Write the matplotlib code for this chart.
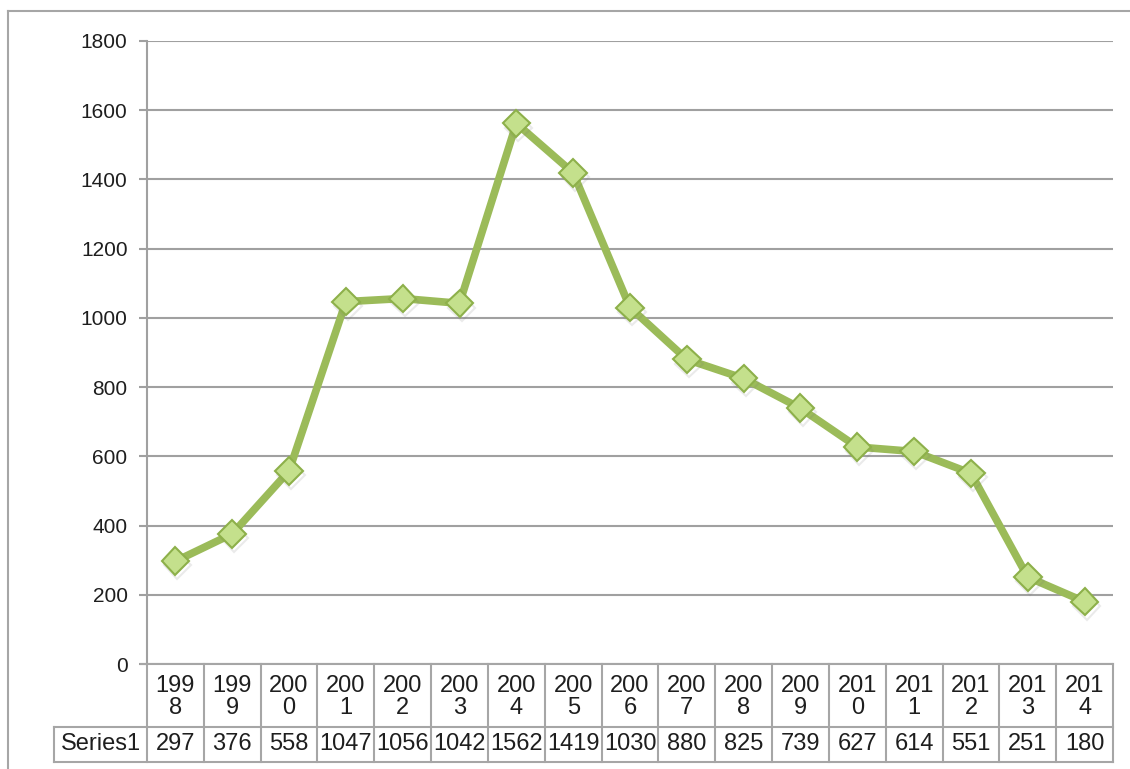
import matplotlib
matplotlib.use("Agg")
import matplotlib.pyplot as plt
from matplotlib.lines import Line2D
import matplotlib.patheffects as pe

plt.rcParams['font.family'] = ['Liberation Sans', 'DejaVu Sans']

# data
years = ["1998", "1999", "2000", "2001", "2002", "2003", "2004", "2005", "2006",
         "2007", "2008", "2009", "2010", "2011", "2012", "2013", "2014"]
series1 = [297, 376, 558, 1047, 1056, 1042, 1562, 1419, 1030,
           880, 825, 739, 627, 614, 551, 251, 180]
series_name = "Series1"
yticks = [0, 200, 400, 600, 800, 1000, 1200, 1400, 1600, 1800]

W, H = 1130, 769
fig = plt.figure(figsize=(W / 100, H / 100), dpi=100)

def fx(px):
    return px / W

def fy(py):
    return 1 - py / H

ax_l, ax_r, ax_t, ax_b = 147, 1113, 41, 664
ax = fig.add_axes([fx(ax_l), fy(ax_b), fx(ax_r) - fx(ax_l), fy(ax_t) - fy(ax_b)])

n = len(years)
xs = list(range(n))
grid_c = '#A0A0A0'
txt_c = '#1E1E1E'

ax.set_xlim(-0.5, n - 0.5)
ax.set_ylim(0, 1800)
ax.set_yticks(yticks)
ax.set_yticklabels([str(v) for v in yticks], fontsize=15, color=txt_c)
ax.set_xticks([])
ax.tick_params(axis='y', length=6, width=1.5, color=grid_c, pad=8)
for v in yticks:
    ax.axhline(v, color=grid_c, lw=1.5, zorder=0)
for s in ['top', 'right', 'bottom']:
    ax.spines[s].set_visible(False)
ax.spines['left'].set_color(grid_c)
ax.spines['left'].set_linewidth(1.5)

# line + markers (with soft shadow)
ax.plot(xs, series1, color='#9BBB59', lw=5.5, zorder=2, solid_capstyle='round',
        solid_joinstyle='round')
ax.plot(xs, series1, ls='none', marker='D', markersize=14,
        markerfacecolor='#C4E08C', markeredgecolor='#8DB04A', markeredgewidth=1.5,
        zorder=3,
        path_effects=[pe.SimpleLineShadow(offset=(1.5, -3), shadow_color='#777777', alpha=0.15),
                      pe.Normal()])

# data table below the plot
tab_c = '#A6A6A6'
row1_b, row2_b = 727, 762
label_l = 54
col_w = (ax_r - ax_l) / n
tab_fs = 17

def hline(y, x0, x1):
    fig.add_artist(Line2D([fx(x0), fx(x1)], [fy(y), fy(y)], color=tab_c, lw=1.5))

def vline(x, y0, y1):
    fig.add_artist(Line2D([fx(x), fx(x)], [fy(y0), fy(y1)], color=tab_c, lw=1.5))

hline(ax_b, ax_l - 6, ax_r)
hline(row1_b, label_l, ax_r)
hline(row2_b, label_l, ax_r)
vline(label_l, row1_b, row2_b)
for i in range(n + 1):
    vline(ax_l + i * col_w, ax_b, row2_b)

for i, (yr, v) in enumerate(zip(years, series1)):
    cx = ax_l + (i + 0.5) * col_w
    fig.text(fx(cx), fy((ax_b + row1_b) / 2 + 1), yr[:3] + "\n" + yr[3:], ha='center',
             va='center', fontsize=tab_fs, color=txt_c, linespacing=1.0)
    fig.text(fx(cx), fy((row1_b + row2_b) / 2), str(v), ha='center', va='center',
             fontsize=tab_fs, color=txt_c)
fig.text(fx((label_l + ax_l) / 2), fy((row1_b + row2_b) / 2), series_name, ha='center',
         va='center', fontsize=tab_fs, color=txt_c)

# outer chart border (left and top visible)
fig.add_artist(Line2D([fx(8), fx(8)], [fy(11), 0], color='#A6A6A6', lw=1.5))
fig.add_artist(Line2D([fx(8), 1], [fy(11), fy(11)], color='#A6A6A6', lw=1.5))

fig.savefig("out.png", dpi=100)
